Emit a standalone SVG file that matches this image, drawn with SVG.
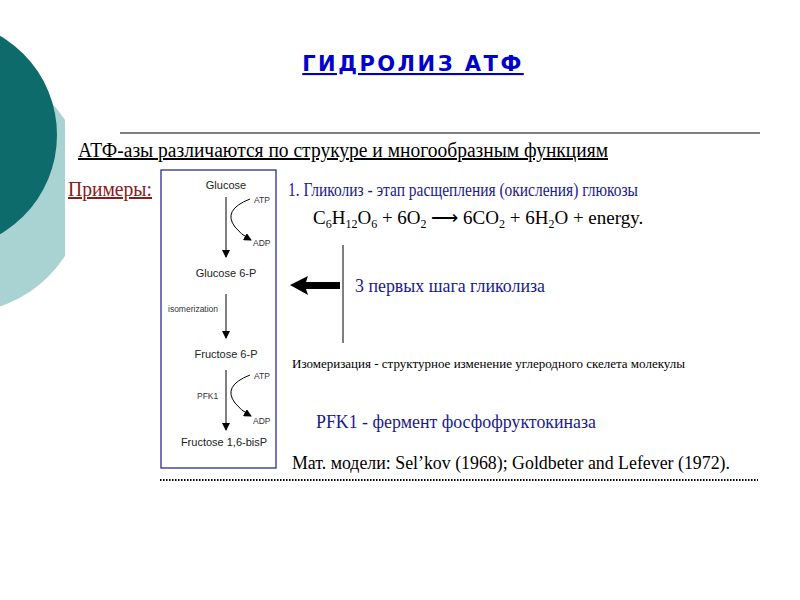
<svg xmlns="http://www.w3.org/2000/svg" width="800" height="600" viewBox="0 0 800 600">
<defs>
<marker id="ah" markerWidth="8" markerHeight="8" refX="7" refY="4" orient="auto" markerUnits="userSpaceOnUse"><path d="M0,0 L8,4 L0,8 Z" fill="#000"/></marker>
<clipPath id="cl"><rect x="0" y="0" width="65" height="600"/></clipPath>
<style>
.s{font-family:"Liberation Sans",Arial,sans-serif;font-size:11px;fill:#222}
.xs{font-family:"Liberation Sans",Arial,sans-serif;font-size:8.5px;fill:#333}
.t{font-family:"Liberation Serif","Times New Roman",serif;fill:#000}
.b{font-family:"Liberation Serif","Times New Roman",serif;fill:#1a1a8c}
.ln{stroke:#000;stroke-width:1;fill:none}
</style>
</defs>
<rect width="800" height="600" fill="#fff"/>
<g id="deco">
<circle cx="-40" cy="188" r="125" fill="#a9d2d2" clip-path="url(#cl)"/>
<circle cx="-58" cy="135" r="115" fill="#0e6b6b"/>
</g>
<text x="413" y="71" text-anchor="middle" font-family="'DejaVu Sans',sans-serif" font-weight="bold" font-size="21" fill="#0000cc" text-decoration="underline" letter-spacing="2.5">ГИДРОЛИЗ  АТФ</text>
<line x1="120" y1="133" x2="760" y2="133" stroke="#000" stroke-width="1.2"/>
<text class="t" x="78" y="157" font-size="20" textLength="530" lengthAdjust="spacingAndGlyphs" text-decoration="underline">АТФ-азы различаются по струкуре и многообразным функциям</text>
<text x="68" y="196" font-family="'Liberation Serif',serif" font-size="20" fill="#8b1a1a" text-decoration="underline" textLength="84" lengthAdjust="spacingAndGlyphs">Примеры:</text>
<g id="box"><rect x="161" y="170" width="115" height="298" fill="none" stroke="#1a1a8c" stroke-width="1.2"/></g>
<g id="n1"><text class="s" x="226" y="189" text-anchor="middle">Glucose</text></g>
<g id="n2"><text class="s" x="226" y="277" text-anchor="middle">Glucose 6-P</text></g>
<g id="n3"><text class="s" x="226" y="358" text-anchor="middle">Fructose 6-P</text></g>
<g id="n4"><text class="s" x="224" y="446" text-anchor="middle">Fructose 1,6-bisP</text></g>
<g id="labels">
<text class="xs" x="254" y="203">ATP</text><text class="xs" x="253" y="246">ADP</text>
<text class="xs" x="168" y="312">isomerization</text>
<text class="xs" x="254" y="379">ATP</text><text class="xs" x="253" y="424">ADP</text>
<text class="xs" x="197" y="399">PFK1</text>
</g>
<g id="connectors">
<line class="ln" x1="226" y1="197" x2="226" y2="257" marker-end="url(#ah)"/>
<path class="ln" d="M250,199 Q222,210 235,227 Q240,234 251,240" marker-end="url(#ah)"/>
<line class="ln" x1="226" y1="294" x2="226" y2="338" marker-end="url(#ah)"/>
<line class="ln" x1="226" y1="370" x2="226" y2="430" marker-end="url(#ah)"/>
<path class="ln" d="M250,375 Q222,386 235,403 Q240,410 251,416" marker-end="url(#ah)"/>
</g>
<text class="b" x="288" y="196" font-size="19" textLength="350" lengthAdjust="spacingAndGlyphs">1. Гликолиз - этап расщепления (окисления) глюкозы</text>
<text class="t" x="313" y="224" font-size="19">C<tspan font-size="12" dy="4">6</tspan><tspan dy="-4">H</tspan><tspan font-size="12" dy="4">12</tspan><tspan dy="-4">O</tspan><tspan font-size="12" dy="4">6</tspan><tspan dy="-4"> + 6O</tspan><tspan font-size="12" dy="4">2</tspan><tspan dy="-4"> ⟶ 6CO</tspan><tspan font-size="12" dy="4">2</tspan><tspan dy="-4"> + 6H</tspan><tspan font-size="12" dy="4">2</tspan><tspan dy="-4">O + energy.</tspan></text>
<g id="bigarrow">
<polygon points="290,285 308,276 306,282 340,282 340,289 306,289 308,295" fill="#000"/>
<line x1="343" y1="245" x2="343" y2="343" stroke="#000" stroke-width="1"/>
</g>
<text class="b" x="355" y="292" font-size="18" textLength="190" lengthAdjust="spacingAndGlyphs">3 первых шага гликолиза</text>
<text class="t" x="292" y="368" font-size="13" textLength="393" lengthAdjust="spacingAndGlyphs">Изомеризация -  структурное изменение углеродного скелета молекулы</text>
<text class="b" x="316" y="428" font-size="19" textLength="280" lengthAdjust="spacingAndGlyphs">PFK1 - фермент фосфофруктокиназа</text>
<text class="t" x="292" y="469" font-size="18" textLength="438" lengthAdjust="spacingAndGlyphs">Мат. модели: Sel’kov (1968);  Goldbeter and Lefever (1972).</text>
<line x1="160" y1="480" x2="758" y2="480" stroke="#000" stroke-width="2" stroke-dasharray="1.5,1.5"/>
</svg>
